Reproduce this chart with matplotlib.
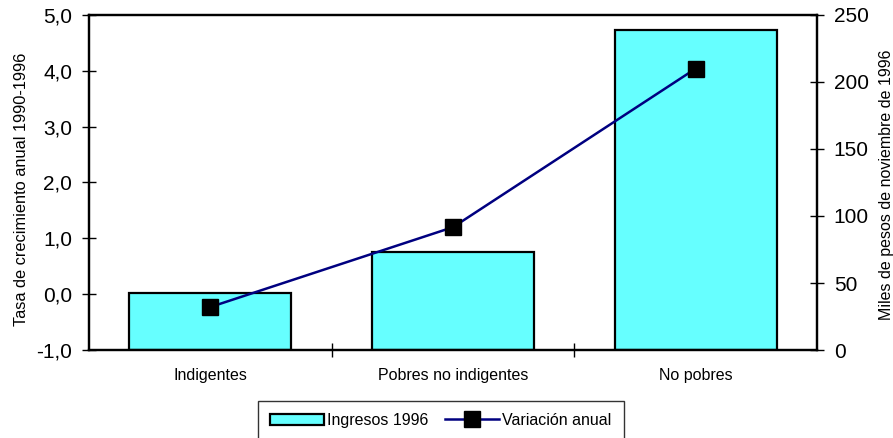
import matplotlib
matplotlib.use("Agg")
import matplotlib.pyplot as plt
from matplotlib.ticker import FuncFormatter, FixedLocator
from matplotlib.patches import Patch
from matplotlib.lines import Line2D
import numpy as np

categories = ["Indigentes", "Pobres no indigentes", "No pobres"]
ingresos_1996 = [42.5, 73.0, 239.0]       # miles de pesos (eje derecho)
variacion_anual = [-0.23, 1.20, 4.04]     # tasa de crecimiento (eje izquierdo)

BAR_COLOR = "#66FFFF"
LINE_COLOR = "#000080"

plt.rcParams["font.family"] = ["Liberation Sans", "DejaVu Sans"]

fig = plt.figure(figsize=(8.93, 4.38), dpi=100)
ax = fig.add_axes([0.0997, 0.2009, 0.8152, 0.7649])
ax2 = ax.twinx()

x = np.arange(len(categories))

# bars on the right axis
ax2.bar(x, ingresos_1996, width=0.667, color=BAR_COLOR,
        edgecolor="black", linewidth=1.6)
ax2.set_ylim(0, 250)
ax2.set_yticks(np.arange(0, 251, 50))
ax2.set_ylabel("Miles de pesos de noviembre de 1996", fontsize=11.5)
ax2.yaxis.set_label_coords(1.085, 0.493)
ax2.tick_params(axis="y", direction="inout", length=10, width=1, labelsize=15, pad=7)

# line on the left axis, drawn above the bars
ax.set_zorder(ax2.get_zorder() + 1)
ax.patch.set_visible(False)
ax.plot(x, variacion_anual, color=LINE_COLOR, linewidth=1.8,
        marker="s", markersize=11, markerfacecolor="black",
        markeredgecolor="black")
ax.set_ylim(-1, 5)
ax.set_yticks(np.arange(-1, 5.1, 1))
ax.yaxis.set_major_formatter(FuncFormatter(lambda v, p: f"{v:.1f}".replace(".", ",")))
ax.set_ylabel("Tasa de crecimiento anual 1990-1996", fontsize=11.8)
ax.yaxis.set_label_coords(-0.082, 0.48)
ax.tick_params(axis="y", direction="inout", length=10, width=1, labelsize=15, pad=7)

ax.set_xlim(-0.5, 2.5)
ax.set_xticks(x)
ax.set_xticklabels(categories, fontsize=11.5)
ax.tick_params(axis="x", length=0, pad=13)
ax.xaxis.set_minor_locator(FixedLocator([0.5, 1.5]))
ax.tick_params(axis="x", which="minor", direction="inout", length=10, width=1)

for a in (ax, ax2):
    for s in a.spines.values():
        s.set_linewidth(1.6)

handles = [
    Patch(facecolor=BAR_COLOR, edgecolor="black", linewidth=1.6),
    Line2D([], [], color=LINE_COLOR, linewidth=1.8, marker="s",
           markersize=11, markerfacecolor="black", markeredgecolor="black"),
]
leg = fig.legend(handles, ["Ingresos 1996", "Variación anual"],
                 loc="upper left", bbox_to_anchor=(258 / 893, 1 - 401 / 438),
                 ncol=2, fontsize=11.5, frameon=True, fancybox=False,
                 edgecolor="black", handlelength=3.4, handletextpad=0.2,
                 columnspacing=1.0, borderpad=0.75, borderaxespad=0)
leg.get_frame().set_linewidth(1.0)

fig.savefig("out.png", dpi=100)
